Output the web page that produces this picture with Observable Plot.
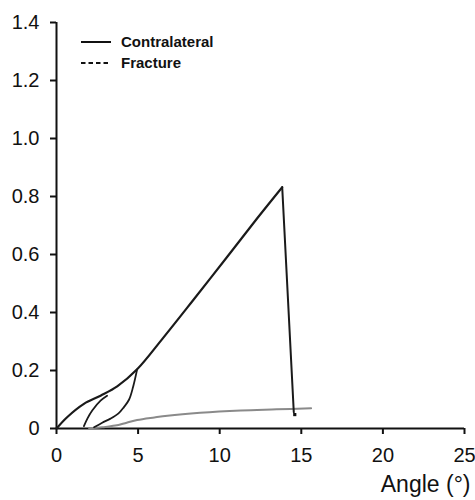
<!DOCTYPE html>
<html>
<head>
<meta charset="utf-8">
<script src="https://cdn.jsdelivr.net/npm/d3@7"></script>
<script src="https://cdn.jsdelivr.net/npm/@observablehq/plot@0.6"></script>
<style>
  html, body { margin: 0; padding: 0; background: #fff; }
  #chart { width: 475px; height: 500px; }
  svg { font-family: "Liberation Sans", Arial, sans-serif; }
</style>
</head>
<body>
<div id="chart"></div>
<script>
// Contralateral: main loading curve (angle °, value)
const contraX = [0, 0.65, 1.68, 2.7, 3.72, 4.94, 6.5, 8.31, 10.5, 12.3, 13.83];
const contraY = [0, 0.039, 0.085, 0.113, 0.145, 0.204, 0.31, 0.438, 0.595, 0.725, 0.832];
// Contralateral failure drop
const dropX = [13.83, 14.54];
const dropY = [0.832, 0.056];
// Contralateral preconditioning curves
const cycle1X = [1.68, 1.9, 2.19, 2.7, 3.1];
const cycle1Y = [0.008, 0.035, 0.062, 0.096, 0.113];
const cycle2X = [2.3, 2.8, 3.31, 3.8, 4.12, 4.45, 4.7, 4.94];
const cycle2Y = [0.004, 0.02, 0.034, 0.052, 0.073, 0.1, 0.145, 0.204];
// Contralateral end point
const endX = [14.6];
const endY = [0.048];
// Fracture curve
const fracX = [2.0, 2.8, 3.6, 4.3, 4.94, 6.0, 6.8, 8.8, 11.3, 13.5, 15.6];
const fracY = [0.0, 0.004, 0.01, 0.02, 0.029, 0.038, 0.044, 0.054, 0.062, 0.066, 0.07];

const xTicks = [0, 5, 10, 15, 20, 25];
const yTicks = [0, 0.2, 0.4, 0.6, 0.8, 1.0, 1.2, 1.4];
const yTickLabels = ["0", "0.2", "0.4", "0.6", "0.8", "1.0", "1.2", "1.4"];
const legendLabels = ["Contralateral", "Fracture"];
const xLabel = "Angle (°)";

const zip = (xs, ys) => xs.map((x, i) => ({x, y: ys[i]}));
const contra = zip(contraX, contraY);
const drop = zip(dropX, dropY);
const cyc1 = zip(cycle1X, cycle1Y);
const cyc2 = zip(cycle2X, cycle2Y);
const frac = zip(fracX, fracY);
const endPt = zip(endX, endY);

const legendMark = () => {
  const g = d3.create("svg:g");
  legendLabels.forEach((lab, i) => {
    const y = 42 + i * 21;
    g.append("line")
      .attr("x1", 81).attr("x2", 111).attr("y1", y).attr("y2", y)
      .attr("stroke", "#111").attr("stroke-width", 2)
      .attr("stroke-dasharray", i === 1 ? "4.5,3" : null);
    g.append("text")
      .attr("x", 121).attr("y", y).attr("dy", "0.35em")
      .attr("text-anchor", "start")
      .attr("font-size", 15).attr("font-weight", 600)
      .attr("fill", "#111")
      .text(lab);
  });
  return g.node();
};

const chart = Plot.plot({
  width: 475,
  height: 500,
  marginLeft: 56,
  marginRight: 11,
  marginTop: 22,
  marginBottom: 72,
  style: {fontFamily: "Liberation Sans, Arial, sans-serif", color: "#111", background: "#fff"},
  x: {domain: [0, 25]},
  y: {domain: [0, 1.4]},
  marks: [
    Plot.axisX({ticks: xTicks, tickSize: 6, tickPadding: 13, fontSize: 20, label: null, strokeWidth: 2}),
    Plot.axisY({ticks: yTicks, tickFormat: d => yTickLabels[yTicks.indexOf(d)], tickSize: 6, tickPadding: 11, fontSize: 20, label: null, strokeWidth: 2}),
    Plot.ruleX([0], {stroke: "#111", strokeWidth: 2}),
    Plot.ruleY([0], {stroke: "#111", strokeWidth: 2}),
    Plot.line(frac, {x: "x", y: "y", stroke: "#8a8a8a", strokeWidth: 2, curve: "catmull-rom"}),
    Plot.line(contra, {x: "x", y: "y", stroke: "#1a1a1a", strokeWidth: 2.2, curve: "catmull-rom"}),
    Plot.line(drop, {x: "x", y: "y", stroke: "#1a1a1a", strokeWidth: 2, curve: "linear"}),
    Plot.line(cyc1, {x: "x", y: "y", stroke: "#1a1a1a", strokeWidth: 1.8, curve: "catmull-rom"}),
    Plot.line(cyc2, {x: "x", y: "y", stroke: "#1a1a1a", strokeWidth: 1.8, curve: "catmull-rom"}),
    Plot.dot(endPt, {x: "x", y: "y", r: 1.8, fill: "#111", symbol: "square"}),
    Plot.text([xLabel], {frameAnchor: "bottom-right", dx: 6, dy: 63, fontSize: 23, fill: "#111", textAnchor: "end"}),
    legendMark
  ]
});
document.getElementById("chart").append(chart);
</script>
</body>
</html>
